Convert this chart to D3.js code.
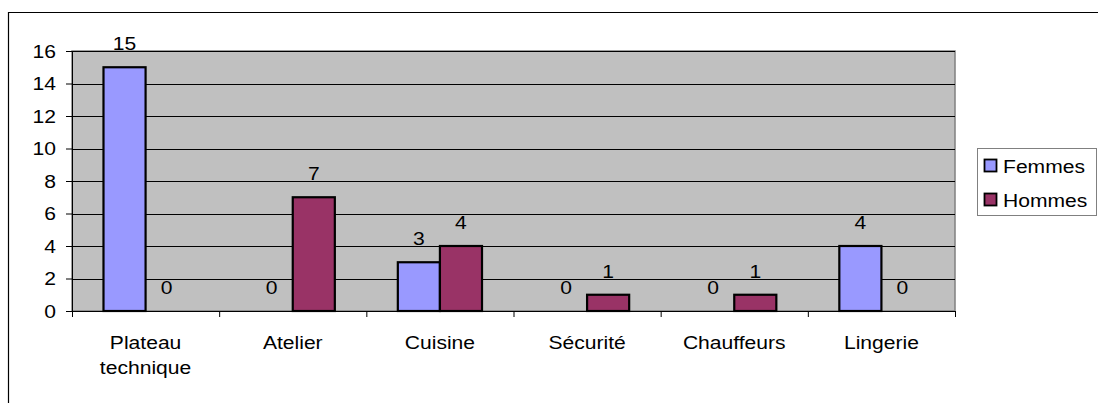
<!DOCTYPE html>
<html>
<head>
<meta charset="utf-8">
<script src="https://cdn.jsdelivr.net/npm/d3@7"></script>
<style>
  html, body { margin: 0; padding: 0; background: #fff; }
  svg { display: block; font-family: "Liberation Sans", Arial, sans-serif; }
</style>
</head>
<body>
<svg id="chart" width="1098" height="403"></svg>
<script>
// Effectifs par service et par sexe
const categories = [["Plateau", "technique"], ["Atelier"], ["Cuisine"], ["Sécurité"], ["Chauffeurs"], ["Lingerie"]];
const seriesNames = ["Femmes", "Hommes"];
const femmes = [15, 0, 3, 0, 0, 4];
const hommes = [0, 7, 4, 1, 1, 0];
const yTicks = [0, 2, 4, 6, 8, 10, 12, 14, 16];
const colors = ["#9999FF", "#993366"];

const FONT = 18.5;     // text size
const STRETCH = 1.14;  // horizontal widening of the glyphs

const svg = d3.select("#chart");
const plot = { left: 72, right: 955, top: 51, bottom: 311 };

// text helper: widened glyphs anchored at (x, y)
function label(g, x, y, str, anchor = "middle") {
  return g.append("text")
    .attr("transform", `translate(${x},${y}) scale(${STRETCH},1)`)
    .attr("text-anchor", anchor)
    .attr("font-size", FONT).attr("fill", "#000")
    .text(str);
}

// outer frame (left and top edges visible)
svg.append("path")
  .attr("d", "M8.5,403 L8.5,12.5 L1098,12.5")
  .attr("fill", "none").attr("stroke", "#000").attr("stroke-width", 1.2);

const x0 = d3.scaleBand()
  .domain(d3.range(categories.length))
  .range([plot.left, plot.right])
  .paddingInner(0).paddingOuter(0);

const barW = x0.bandwidth() * 0.286;
const y = d3.scaleLinear().domain([0, 16]).range([plot.bottom, plot.top]);

// plot background
svg.append("rect")
  .attr("x", plot.left).attr("y", plot.top)
  .attr("width", plot.right - plot.left).attr("height", plot.bottom - plot.top)
  .attr("fill", "#C0C0C0").attr("stroke", "#808080").attr("stroke-width", 1.5);

// gridlines
svg.append("g").selectAll("line").data(yTicks.filter(t => t > 0)).join("line")
  .attr("x1", plot.left).attr("x2", plot.right)
  .attr("y1", d => Math.round(y(d)) + 0.5).attr("y2", d => Math.round(y(d)) + 0.5)
  .attr("stroke", "#000").attr("stroke-width", 1);

// y axis
const yAxis = d3.axisLeft(y).tickValues(yTicks).tickSize(6).tickFormat("");
const gy = svg.append("g").attr("transform", `translate(${plot.left},0)`).call(yAxis);
gy.select(".domain").attr("stroke", "#000");
yTicks.forEach(t => label(svg, 56, y(t) + 6.5, d3.format("d")(t), "end"));

// x axis with ticks at category boundaries
const xb = d3.scaleLinear().domain([0, categories.length]).range([plot.left, plot.right]);
const gx = svg.append("g").attr("transform", `translate(0,${plot.bottom})`)
  .call(d3.axisBottom(xb).tickValues(d3.range(categories.length + 1)).tickSize(6).tickFormat(""));
gx.select(".domain").attr("stroke", "#000").attr("d", `M${plot.left},0.5H${plot.right}`);

// category labels
const catLabels = svg.append("g");
categories.forEach((lines, i) => {
  lines.forEach((ln, j) => label(catLabels, x0(i) + x0.bandwidth() / 2, 349 + j * 25, ln));
});

// bars and value labels
const series = [femmes, hommes];
const barsG = svg.append("g");
series.forEach((vals, s) => {
  const bx = i => x0(i) + x0.bandwidth() / 2 - barW + s * barW;
  const rows = vals.map((v, i) => ({ v, i }));
  barsG.append("g").selectAll("rect").data(rows.filter(d => d.v > 0)).join("rect")
    .attr("x", d => bx(d.i))
    .attr("y", d => y(d.v))
    .attr("width", barW)
    .attr("height", d => y(0) - y(d.v))
    .attr("fill", colors[s])
    .attr("stroke", "#000")
    .attr("stroke-width", 2.2);
  const lg = barsG.append("g");
  rows.forEach(d => label(lg, bx(d.i) + barW / 2, y(d.v) - 17, d.v));
});

// legend
const lg = svg.append("g");
lg.append("rect").attr("x", 977.5).attr("y", 148.5).attr("width", 119).attr("height", 67)
  .attr("fill", "#fff").attr("stroke", "#808080").attr("stroke-width", 1);
seriesNames.forEach((name, k) => {
  const top = 159.5 + k * 34;
  lg.append("rect").attr("x", 984.5).attr("y", top).attr("width", 12).attr("height", 12)
    .attr("fill", colors[k]).attr("stroke", "#000").attr("stroke-width", 1.8);
  label(lg, 1003, top + 13, name, "start");
});
</script>
</body>
</html>
